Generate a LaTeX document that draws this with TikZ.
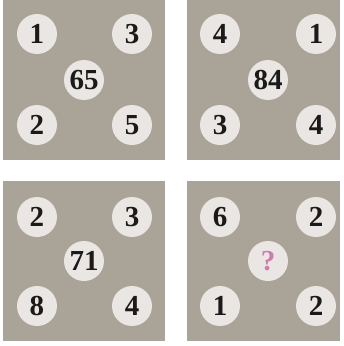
\documentclass[tikz,border=0pt]{standalone}
\usepackage{fontspec}
\setmainfont{Liberation Serif}
\definecolor{panelgray}{RGB}{170,164,152}
\definecolor{discfill}{RGB}{234,230,228}
\definecolor{numdark}{RGB}{26,26,26}
\definecolor{qpink}{RGB}{209,122,176}
\tikzset{
  panel/.style={fill=panelgray, draw=none},
  disc/.style={circle, fill=discfill, draw=none, minimum size=40pt, inner sep=0pt,
    font=\fontsize{29}{29}\selectfont\bfseries, text=numdark},
  qdisc/.style={disc, text=qpink}
}
\begin{document}
\begin{tikzpicture}[x=1pt,y=-1pt]
\useasboundingbox (0,0) rectangle (344,346);
\fill[white] (0,0) rectangle (344,346);
% panels
\path[panel] (3,0) rectangle (165,160);
\path[panel] (187,0) rectangle (340,160);
\path[panel] (3,181) rectangle (165,341);
\path[panel] (187,181) rectangle (340,341);
% panel 1
\node[disc] (a1) at (37,34) {1};
\node[disc] (a2) at (132,34) {3};
\node[disc] (a3) at (84,80) {65};
\node[disc] (a4) at (37,125) {2};
\node[disc] (a5) at (132,125) {5};
% panel 2
\node[disc] (b1) at (220,34) {4};
\node[disc] (b2) at (316,34) {1};
\node[disc] (b3) at (268,80) {84};
\node[disc] (b4) at (220,125) {3};
\node[disc] (b5) at (316,125) {4};
% panel 3
\node[disc] (c1) at (37,217) {2};
\node[disc] (c2) at (132,217) {3};
\node[disc] (c3) at (84,261) {71};
\node[disc] (c4) at (37,306) {8};
\node[disc] (c5) at (132,306) {4};
% panel 4
\node[disc] (d1) at (220,217) {6};
\node[disc] (d2) at (316,217) {2};
\node[qdisc] (d3) at (268,261) {?};
\node[disc] (d4) at (220,306) {1};
\node[disc] (d5) at (316,306) {2};
\end{tikzpicture}
\end{document}
